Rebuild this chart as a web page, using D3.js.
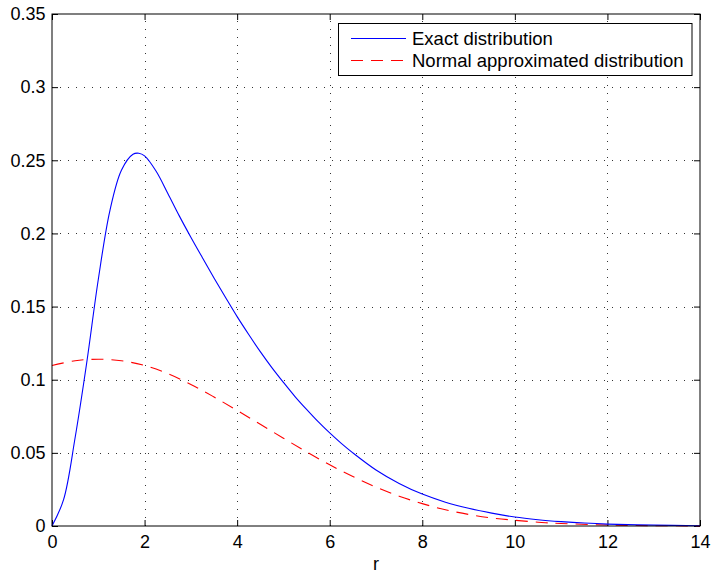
<!DOCTYPE html>
<html>
<head>
<meta charset="utf-8">
<script src="https://cdn.jsdelivr.net/npm/d3@7/dist/d3.min.js"></script>
<style>
  html, body { margin: 0; padding: 0; background: #fff; }
  svg { display: block; font-family: "Liberation Sans", Arial, Helvetica, sans-serif; }
</style>
</head>
<body>
<svg id="chart" width="712" height="574"></svg>
<script>
// ---- data ----
const rExact = [0, 0.25, 0.5, 0.75, 1, 1.25, 1.5, 1.75, 1.875, 2, 2.25, 2.5, 2.75, 3, 3.25, 3.5, 3.75, 4, 4.25, 4.5, 4.75, 5, 5.25, 5.5, 5.75, 6, 6.25, 6.5, 7, 7.5, 8, 8.5, 9, 9.5, 10, 10.5, 11, 11.5, 12, 13, 14];
const exactValues = [0, 0.018, 0.0605, 0.1116, 0.1685, 0.2155, 0.2432, 0.2541, 0.2548, 0.2530, 0.2425, 0.2275, 0.2120, 0.1974, 0.1834, 0.1696, 0.1562, 0.1431, 0.1309, 0.1192, 0.1083, 0.0982, 0.0885, 0.0797, 0.0713, 0.0636, 0.0565, 0.0500, 0.0383, 0.0291, 0.0218, 0.0163, 0.0121, 0.0088, 0.0061, 0.0043, 0.0030, 0.0020, 0.0013, 0.0006, 0.0002];
const rNormal = [0, 0.5, 1, 1.5, 2, 2.5, 3, 3.5, 4, 4.5, 5, 5.5, 6, 6.5, 7, 7.5, 8, 8.5, 9, 9.5, 10, 10.5, 11, 12, 13, 14];
const normalValues = [0.1097, 0.1130, 0.1140, 0.1130, 0.1097, 0.1042, 0.0968, 0.0882, 0.0790, 0.0695, 0.0600, 0.0507, 0.0418, 0.0338, 0.0266, 0.0204, 0.0153, 0.0111, 0.0079, 0.0055, 0.0039, 0.0026, 0.0017, 0.0007, 0.0002, 0.0001];
const xTicks = [0, 2, 4, 6, 8, 10, 12, 14];
const yTicks = [0, 0.05, 0.1, 0.15, 0.2, 0.25, 0.3, 0.35];
const yTickLabels = ["0", "0.05", "0.1", "0.15", "0.2", "0.25", "0.3", "0.35"];
const seriesNames = ["Exact distribution", "Normal approximated distribution"];
const xLabel = "r";

// ---- layout ----
const pL = 52, pR = 700, pT = 14, pB = 526;
const svg = d3.select("#chart");
const x = d3.scaleLinear().domain([0, 14]).range([pL, pR]);
const y = d3.scaleLinear().domain([0, 0.35]).range([pB, pT]);

// grid
const grid = svg.append("g").attr("stroke", "#333").attr("stroke-width", 1).attr("stroke-dasharray", "1,7");
grid.selectAll(".gx").data(xTicks.slice(1, -1)).enter().append("line")
  .attr("x1", d => Math.round(x(d)) + 0.5).attr("x2", d => Math.round(x(d)) + 0.5)
  .attr("y1", pB).attr("y2", pT);
grid.selectAll(".gy").data(yTicks.slice(1, -1)).enter().append("line")
  .attr("y1", d => Math.round(y(d)) + 0.5).attr("y2", d => Math.round(y(d)) + 0.5)
  .attr("x1", pL).attr("x2", pR);

// axes (ticks inside, on all four sides)
const tickLen = 6;
const fs = "18px";
const xAxisB = d3.axisBottom(x).tickValues(xTicks).tickSize(-tickLen).tickPadding(9.5).tickFormat(d3.format("d"));
const xAxisT = d3.axisTop(x).tickValues(xTicks).tickSize(-tickLen).tickFormat("");
const yAxisL = d3.axisLeft(y).tickValues(yTicks).tickSize(-tickLen).tickPadding(6.5).tickFormat((d, i) => yTickLabels[i]);
const yAxisR = d3.axisRight(y).tickValues(yTicks).tickSize(-tickLen).tickFormat("");

function styleAxis(g) {
  g.select(".domain").remove();
  g.selectAll(".tick line").attr("stroke", "#000");
  g.selectAll(".tick text").attr("fill", "#000").style("font-size", fs)
   .style("font-family", "'Liberation Sans', Arial, Helvetica, sans-serif");
}
svg.append("g").attr("transform", `translate(0,${pB})`).call(xAxisB).call(styleAxis);
svg.append("g").attr("transform", `translate(0,${pT})`).call(xAxisT).call(styleAxis);
svg.append("g").attr("transform", `translate(${pL},0)`).call(yAxisL).call(styleAxis);
svg.append("g").attr("transform", `translate(${pR},0)`).call(yAxisR).call(styleAxis);

// lines
const line = d3.line().x(d => x(d[0])).y(d => y(d[1])).curve(d3.curveCatmullRom.alpha(0.5));
const exactData = rExact.map((r, i) => [r, exactValues[i]]);
const normalData = rNormal.map((r, i) => [r, normalValues[i]]);

svg.append("path").datum(normalData).attr("d", line)
  .attr("fill", "none").attr("stroke", "#ff0000").attr("stroke-width", 1.1).attr("stroke-dasharray", "12,8");
svg.append("path").datum(exactData).attr("d", line)
  .attr("fill", "none").attr("stroke", "#0000ff").attr("stroke-width", 1.1);

// box
svg.append("rect").attr("x", pL).attr("y", pT).attr("width", pR - pL).attr("height", pB - pT)
  .attr("fill", "none").attr("stroke", "#000").attr("stroke-width", 1);

// x label
svg.append("text").attr("x", (pL + pR) / 2).attr("y", 570).attr("text-anchor", "middle")
  .style("font-size", fs).attr("fill", "#000").text(xLabel);

// legend
const lg = svg.append("g");
lg.append("rect").attr("x", 338.5).attr("y", 23.5).attr("width", 353.5).attr("height", 52)
  .attr("fill", "#fff").attr("stroke", "#000").attr("stroke-width", 1);
const legendRows = [
  { name: seriesNames[0], color: "#0000ff", dash: null, cy: 38.5 },
  { name: seriesNames[1], color: "#ff0000", dash: "12,8", cy: 60.5 }
];
legendRows.forEach(r => {
  lg.append("line").attr("x1", 351).attr("x2", 406).attr("y1", r.cy).attr("y2", r.cy)
    .attr("stroke", r.color).attr("stroke-width", 1.1).attr("stroke-dasharray", r.dash);
  lg.append("text").attr("x", 412).attr("y", r.cy).attr("dy", "0.35em")
    .style("font-size", "18.5px").attr("fill", "#000").text(r.name);
});
</script>
</body>
</html>
